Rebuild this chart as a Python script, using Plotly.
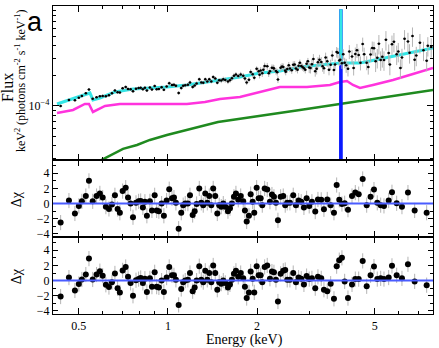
import math

import plotly.graph_objects as go
from plotly.subplots import make_subplots

# bin energies (keV), shared by the unfolded spectrum and both residual panels
ENERGY = [
    0.434, 0.463, 0.485, 0.500, 0.512, 0.528, 0.541, 0.557, 0.574, 0.589,
    0.602, 0.617, 0.632, 0.647, 0.662, 0.676, 0.688, 0.703, 0.720, 0.733,
    0.748, 0.762, 0.780, 0.796, 0.809, 0.823, 0.836, 0.849, 0.869, 0.883,
    0.902, 0.916, 0.932, 0.952, 0.969, 0.990, 1.010, 1.032, 1.048, 1.064,
    1.087, 1.109, 1.126, 1.144, 1.168, 1.187, 1.212, 1.231, 1.250, 1.276,
    1.296, 1.316, 1.337, 1.358, 1.379, 1.401, 1.422, 1.445, 1.468, 1.490,
    1.514, 1.538, 1.562, 1.595, 1.620, 1.645, 1.671, 1.697, 1.728, 1.761,
    1.796, 1.820, 1.845, 1.878, 1.903, 1.933, 1.957, 1.994, 2.025, 2.057,
    2.083, 2.122, 2.165, 2.211, 2.246, 2.281, 2.317, 2.353, 2.403, 2.452,
    2.490, 2.529, 2.583, 2.650, 2.706, 2.764, 2.820, 2.880, 2.941, 3.001,
    3.065, 3.145, 3.212, 3.295, 3.365, 3.453, 3.546, 3.638, 3.715, 3.791,
    3.871, 3.954, 4.057, 4.186, 4.295, 4.410, 4.549, 4.693, 4.837, 4.966,
    5.095, 5.232, 5.368, 5.568, 5.713, 5.925, 6.174, 6.469, 6.815, 7.482,
]

# unfolded E^2 F, in units of 1e-4
FLUX = [
    1.00, 1.15, 1.14, 1.21, 1.26, 1.34, 1.46, 1.18, 1.22, 1.25,
    1.26, 1.25, 1.28, 1.34, 1.43, 1.37, 1.36, 1.50, 1.55, 1.48,
    1.47, 1.40, 1.49, 1.51, 1.52, 1.47, 1.52, 1.43, 1.53, 1.46,
    1.58, 1.47, 1.48, 1.54, 1.45, 1.57, 1.69, 1.62, 1.63, 1.59,
    1.35, 1.51, 1.59, 1.61, 1.63, 1.72, 1.55, 1.60, 1.68, 1.85,
    1.72, 1.71, 1.85, 1.76, 1.85, 1.76, 1.95, 1.88, 1.71, 1.81,
    1.80, 1.85, 1.82, 1.76, 1.81, 1.89, 2.00, 2.06, 1.99, 2.07,
    2.01, 1.88, 1.72, 1.83, 2.19, 2.08, 1.92, 2.35, 2.23, 2.26,
    2.12, 2.51, 2.49, 2.23, 2.41, 2.37, 2.24, 1.84, 2.41, 2.46,
    2.26, 2.34, 2.37, 2.59, 2.37, 2.52, 2.51, 2.38, 2.64, 2.42,
    2.61, 2.23, 2.74, 2.75, 2.38, 2.80, 2.59, 2.29, 3.47, 2.85,
    2.67, 2.71, 2.35, 3.12, 3.31, 3.23, 4.16, 2.71, 3.28, 3.78,
    3.04, 2.88, 2.88, 3.38, 4.15, 3.29, 3.06, 4.42, 2.90, 2.84,
]

# second, denser set of high-energy points in the top panel
EXTRA_ENERGY = [
    2.04, 2.10, 2.19, 2.27, 2.34, 2.43, 2.50, 2.56, 2.62, 2.68,
    2.74, 2.79, 2.85, 2.91, 2.97, 3.03, 3.10, 3.18, 3.25, 3.33,
    3.41, 3.50, 3.59, 3.67, 3.75, 3.82, 3.91, 4.00, 4.10, 4.24,
    4.35, 4.47, 4.60, 4.75, 4.90, 5.03, 5.16, 5.30, 5.45, 5.62,
    5.80, 6.00, 6.10, 6.30, 6.55, 6.70, 6.90, 7.10, 7.30, 7.55, 7.75,
]
EXTRA_FLUX = [
    2.05, 2.30, 2.12, 2.40, 2.18, 2.48, 2.20, 2.55, 2.28, 2.60,
    2.30, 2.70, 2.45, 2.30, 2.80, 2.40, 2.95, 2.35, 2.90, 2.50,
    3.05, 2.30, 3.20, 2.60, 3.40, 2.90, 3.30, 2.55, 3.50, 2.40,
    3.60, 2.70, 3.30, 2.45, 3.80, 2.80, 4.20, 3.10, 4.60, 2.60,
    4.40, 3.50, 2.40, 4.70, 3.40, 5.00, 3.20, 4.30, 3.60, 4.00, 3.90,
]

# relative error (%) of the top-panel points, by energy band (upper edge, keV)
ERR_EDGE = [0.6, 1.0, 1.5, 2.0, 3.0, 4.0, 5.0, 9.0]
ERR_PCT = [3.0, 3.5, 4.5, 6.0, 8.0, 12.0, 16.0, 22.0]

# model curves, E^2 F in units of 1e-4
TOTAL_E = [0.422, 0.442, 0.478, 0.516, 0.545, 0.558, 0.589, 0.662, 0.762, 0.869,
           0.992, 1.159, 1.476, 1.751, 2.046, 2.389, 2.792, 3.262, 3.752,
           3.835, 3.840, 3.845, 4.025, 4.454, 5.202, 6.078, 7.101, 7.861]
TOTAL_F = [1.047, 1.096, 1.175, 1.259, 1.349, 1.148, 1.202, 1.380, 1.479, 1.514,
           1.549, 1.622, 1.820, 1.950, 2.138, 2.239, 2.455, 2.570, 2.692,
           2.692, 9.30, 2.692, 2.692, 2.692, 2.951, 3.236, 3.548, 3.802]

CONT_E = [0.422, 0.478, 0.524, 0.541, 0.558, 0.613, 0.688, 0.869, 1.159, 1.334,
          1.499, 1.751, 2.046, 2.389, 2.949, 3.526, 3.811, 4.025, 4.217, 4.454,
          4.927, 5.756, 6.725, 7.861]
CONT_F = [0.851, 0.912, 1.047, 1.047, 0.871, 1.000, 1.047, 1.047, 1.047, 1.096,
          1.175, 1.230, 1.380, 1.549, 1.549, 1.622, 1.738, 1.778, 1.622, 1.514,
          1.622, 1.820, 2.089, 2.399]

PL_E = [0.545, 0.598, 0.652, 0.705, 0.786, 0.869, 0.992, 1.159, 1.476, 2.792, 7.861]
PL_F = [0.251, 0.288, 0.331, 0.372, 0.407, 0.457, 0.513, 0.575, 0.692, 0.912, 1.445]

LINE_E = [3.83, 3.84, 3.85]
LINE_F = [0.001, 9.30, 0.001]

# residuals (delta chi) for the two fits
RESID_A = [
    -2.5, 0.4, -1.3, -0.3, 0.3, 1.0, 3.0, 0.3, 1.0, 1.35,
    0.8, -0.4, -0.7, -0.1, 1.1, -0.7, -1.2, 1.65, 2.1, 0.8,
    0.0, -1.8, 0.1, 0.3, 0.35, -0.5, 0.25, -1.6, 0.3, -0.9,
    1.1, -0.9, -1.0, 0.0, -1.6, 0.4, 1.9, 0.7, 0.8, 0.1,
    -3.3, -1.2, -0.2, 0.0, 0.0, 1.1, -1.5, -1.0, -0.05, 2.0,
    0.1, -0.2, 1.35, 0.1, 1.0, -0.2, 2.0, 1.0, -1.3, -0.2,
    -0.4, 0.0, -0.4, -1.0, -0.6, 0.0, 0.9, 1.35, 0.5, 1.0,
    0.3, -0.9, -2.35, -1.6, 1.25, 0.25, -1.2, 2.1, 0.7, 0.7,
    -0.2, 2.0, 1.85, 0.25, 1.2, 0.9, 0.1, -2.2, 0.9, 1.0,
    -0.2, 0.1, 0.1, 1.1, -0.2, 0.4, 0.25, -0.5, 0.7, -0.3,
    0.25, -1.05, 0.55, 0.5, -0.75, 0.55, -0.2, -1.2, 2.45, 0.5,
    -0.05, 0.05, -0.8, 1.0, 1.45, 1.25, 3.25, -0.2, 0.9, 1.85,
    0.1, -0.2, -0.3, 0.4, 1.5, 0.05, -0.4, 1.45, -0.9, -1.2,
]
RESID_B = [
    -2.1, 0.4, -1.3, -0.45, 0.15, 0.8, 2.9, 0.15, 0.8, 1.25,
    0.65, -0.55, -0.85, -0.2, 0.95, -1.0, -1.55, 1.35, 1.8, 0.5,
    -0.3, -2.0, 0.05, 0.2, 0.35, -0.3, 0.25, -1.5, 0.3, -0.8,
    1.1, -0.8, -0.9, 0.0, -1.5, 0.4, 1.8, 0.7, 0.7, 0.1,
    -3.2, -1.1, -0.2, 0.0, 0.1, 1.0, -1.4, -0.9, 0.0, 1.9,
    0.1, -0.2, 1.3, 0.1, 1.0, -0.2, 2.0, 1.0, -1.2, -0.2,
    -0.4, 0.0, -0.3, -0.9, -0.5, 0.1, 0.9, 1.3, 0.5, 1.0,
    0.3, -0.8, -2.3, -1.55, 1.2, 0.25, -1.55, 1.9, 0.7, 0.7,
    -0.2, 1.8, 2.0, 0.25, 1.2, 1.1, 0.1, -2.75, 0.9, 1.3,
    1.4, 0.1, 0.1, 1.0, -0.2, 0.4, 0.25, -0.5, 0.6, 0.2,
    0.3, -1.0, 0.5, 0.3, -1.2, -1.4, -0.4, -2.4, 1.9, 2.7,
    3.0, -0.1, -2.3, -0.5, 0.2, 0.2, 2.6, -0.75, 0.7, 1.85,
    0.2, 0.3, 0.2, 0.4, 1.95, 0.7, 0.3, 2.15, -0.1, -0.6,
]

SCALE = 1e-4
SERIF = "Liberation Serif"
CYAN = "#33e6e6"
MAGENTA = "#ff33dd"
GREEN = "#1f8a1f"
SPIKE_BLUE = "#0a1aff"
ZERO_BLUE = "#4a5cff"
ERR_GREY = "#b4b4b4"


def rel_err(e):
    for edge, pct in zip(ERR_EDGE, ERR_PCT):
        if e < edge:
            return pct / 100.0
    return ERR_PCT[-1] / 100.0


def scaled(values):
    return [v * SCALE for v in values]


fig = make_subplots(rows=3, cols=1, shared_xaxes=True, vertical_spacing=0,
                    row_heights=[0.5, 0.25, 0.25])

# model components
fig.add_trace(go.Scatter(x=PL_E, y=scaled(PL_F), mode="lines",
                         line=dict(color=GREEN, width=2.5)), row=1, col=1)
fig.add_trace(go.Scatter(x=CONT_E, y=scaled(CONT_F), mode="lines",
                         line=dict(color=MAGENTA, width=2.5)), row=1, col=1)
fig.add_trace(go.Scatter(x=LINE_E, y=scaled(LINE_F), mode="lines",
                         line=dict(color=SPIKE_BLUE, width=3.5)), row=1, col=1)
fig.add_trace(go.Scatter(x=TOTAL_E, y=scaled(TOTAL_F), mode="lines",
                         line=dict(color=CYAN, width=3)), row=1, col=1)

# unfolded data points
all_e = ENERGY + EXTRA_ENERGY
all_f = FLUX + EXTRA_FLUX
fig.add_trace(go.Scatter(
    x=all_e, y=scaled(all_f), mode="markers",
    marker=dict(color="black", size=2.5),
    error_y=dict(type="data", array=[f * SCALE * rel_err(e) for e, f in zip(all_e, all_f)],
                 color=ERR_GREY, thickness=1, width=0),
    error_x=dict(type="percent", value=1.2, color="#777777", thickness=1, width=0),
), row=1, col=1)

# residual panels
for row, resid in ((2, RESID_A), (3, RESID_B)):
    fig.add_trace(go.Scatter(
        x=ENERGY, y=resid, mode="markers",
        marker=dict(color="black", size=6),
        error_y=dict(type="constant", value=1.0, color=ERR_GREY, thickness=1, width=0),
    ), row=row, col=1)
    fig.add_hline(y=0, line=dict(color=ZERO_BLUE, width=2), row=row, col=1)

axis_common = dict(showline=True, linecolor="black", linewidth=1.2, mirror="allticks",
                   ticks="inside", tickcolor="black", showgrid=False, zeroline=False,
                   tickfont=dict(family=SERIF, size=12, color="black"))

x_range = [math.log10(0.409), math.log10(7.86)]
for row in (1, 2, 3):
    fig.update_xaxes(type="log", range=x_range, ticklen=6,
                     tickvals=[0.5, 1, 2, 5], ticktext=["0.5", "1", "2", "5"],
                     minor=dict(ticks="inside", ticklen=3, tickcolor="black",
                                tickvals=[0.4, 0.6, 0.7, 0.8, 0.9, 3, 4, 6, 7]),
                     row=row, col=1, **axis_common)

fig.update_yaxes(type="log", range=[math.log10(2.88e-5), -3], ticklen=6,
                 tickvals=[1e-4], ticktext=["10<sup>\u22124</sup>"],
                 minor=dict(ticks="inside", ticklen=3, tickcolor="black",
                            tickvals=[3e-5, 4e-5, 5e-5, 6e-5, 7e-5, 8e-5, 9e-5,
                                      2e-4, 3e-4, 4e-4, 5e-4, 6e-4, 7e-4, 8e-4, 9e-4]),
                 row=1, col=1, **axis_common)
for row in (2, 3):
    fig.update_yaxes(range=[-4.4, 5.75], ticklen=5,
                     tickvals=[-4, -2, 0, 2, 4],
                     ticktext=["\u22124", "\u22122", "0", "2", "4"],
                     minor=dict(ticks="inside", ticklen=3, tickcolor="black",
                                tickvals=[-3, -1, 1, 3, 5]),
                     row=row, col=1, **axis_common)

# text placed in pixel terms of the 380x308 plot area
annotations = [
    dict(text="a", x=-0.047, y=0.948, font=dict(family="Liberation Sans", size=27)),
    dict(text="Flux", x=-0.118, y=0.734, textangle=-90, font=dict(family=SERIF, size=16)),
    dict(text="keV<sup>2</sup> (photons cm<sup>-2</sup> s<sup>-1</sup> keV<sup>-1</sup>)",
         x=-0.087, y=0.756, textangle=-90, font=dict(family=SERIF, size=12)),
    dict(text="\u0394\u03c7", x=-0.097, y=0.373, textangle=-90, font=dict(family=SERIF, size=14)),
    dict(text="\u0394\u03c7", x=-0.097, y=0.123, textangle=-90, font=dict(family=SERIF, size=14)),
    dict(text="Energy (keV)", x=0.503, y=-0.084, font=dict(family=SERIF, size=14)),
]
for ann in annotations:
    ann.update(xref="paper", yref="paper", showarrow=False,
               xanchor="center", yanchor="middle")
    ann["font"]["color"] = "black"

fig.update_layout(
    width=439, height=348,
    margin=dict(l=53, r=6, t=6, b=34),
    plot_bgcolor="white", paper_bgcolor="white",
    showlegend=False,
    hovermode=False,
    font=dict(family=SERIF, size=12, color="black"),
    annotations=annotations,
)

# the page body has a default 8px margin; drop it so the figure sits at the corner
fig.write_html("out.html", config={"displayModeBar": False},
               post_script="document.body.style.margin = '0px';")
